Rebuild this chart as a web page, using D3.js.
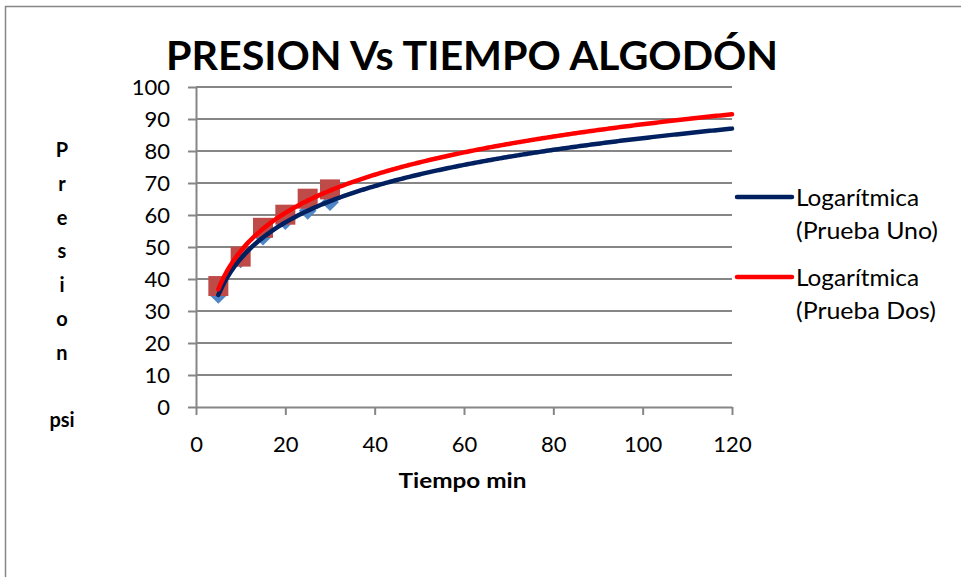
<!DOCTYPE html>
<html>
<head>
<meta charset="utf-8">
<script src="https://cdn.jsdelivr.net/npm/d3@7"></script>
<style>
  html, body { margin: 0; padding: 0; background: #fff; }
  svg { display: block; }
  text { font-family: Lato, "Open Sans", sans-serif; fill: #000; }
</style>
</head>
<body>
<svg id="chart" width="961" height="577"></svg>
<script>
// ---- data ----
const tiempo = [5, 10, 15, 20, 25, 30];
const pruebaUno = [35.0, 46.1, 53.2, 58.1, 61.3, 64.0];
const pruebaDos = [37.8, 47.0, 56.0, 60.1, 65.1, 68.0];
const xTicks = [0, 20, 40, 60, 80, 100, 120];
const yTicks = [0, 10, 20, 30, 40, 50, 60, 70, 80, 90, 100];
const titleText = "PRESION Vs TIEMPO ALGODÓN";
const xTitle = "Tiempo min";
const yTitleLines = ["P", "r", "e", "s", "i", "o", "n", "", "psi"];
const legendLabels = [["Logarítmica", "(Prueba Uno)"], ["Logarítmica", "(Prueba Dos)"]];

// ---- layout ----
const svg = d3.select("#chart");
const plot = { left: 196, right: 732, top: 87, bottom: 407 };
const x = d3.scaleLinear().domain([0, 120]).range([plot.left, plot.right]);
const y = d3.scaleLinear().domain([0, 100]).range([plot.bottom, plot.top]);
const gridColor = "#868686";

// outer border (chart area extends beyond the frame)
svg.append("rect")
  .attr("x", 5.5).attr("y", 6.5).attr("width", 1200).attr("height", 1200)
  .attr("fill", "none").attr("stroke", gridColor).attr("stroke-width", 1.5);

// gridlines
svg.append("g").selectAll("line").data(yTicks.filter(d => d > 0)).join("line")
  .attr("x1", plot.left).attr("x2", plot.right)
  .attr("y1", d => y(d)).attr("y2", d => y(d))
  .attr("stroke", gridColor).attr("stroke-width", 2);

// axes
const yAxis = svg.append("g").attr("transform", `translate(${plot.left},0)`)
  .call(d3.axisLeft(y).tickValues(yTicks).tickSize(8).tickPadding(18).tickSizeOuter(0));
const xAxis = svg.append("g").attr("transform", `translate(0,${plot.bottom})`)
  .call(d3.axisBottom(x).tickValues(xTicks).tickSize(8).tickPadding(21).tickSizeOuter(0));
[yAxis, xAxis].forEach(g => {
  g.select(".domain").attr("stroke", gridColor).attr("stroke-width", 2);
  g.selectAll(".tick line").attr("stroke", gridColor).attr("stroke-width", 2);
  g.selectAll(".tick text").attr("font-family", "Lato, sans-serif").attr("font-size", 22).attr("fill", "#000");
});

// logarithmic trend (least squares on ln x) computed from the data
function logFit(xs, ys) {
  const lx = xs.map(Math.log);
  const mx = d3.mean(lx), my = d3.mean(ys);
  const sxy = d3.sum(lx, (v, i) => (v - mx) * (ys[i] - my));
  const sxx = d3.sum(lx, v => (v - mx) * (v - mx));
  const a = sxy / sxx, b = my - a * mx;
  return t => a * Math.log(t) + b;
}
const fitUno = logFit(tiempo, pruebaUno);
const fitDos = logFit(tiempo, pruebaDos);
const tSamples = d3.range(5, 120.01, 0.5);
const line = f => d3.line().x(t => x(t)).y(t => y(f(t))).curve(d3.curveLinear)(tSamples);

// markers: diamonds (Prueba Uno), squares (Prueba Dos)
const diamond = d3.symbol().type(d3.symbolDiamond2).size(200);
svg.append("g").selectAll("path").data(tiempo).join("path")
  .attr("transform", (d, i) => `translate(${x(d)},${y(pruebaUno[i])})`)
  .attr("d", diamond).attr("fill", "#4F86C6");
svg.append("g").selectAll("rect").data(tiempo).join("rect")
  .attr("x", d => x(d) - 10).attr("y", (d, i) => y(pruebaDos[i]) - 10)
  .attr("width", 20).attr("height", 20).attr("fill", "#BE4B48");

// trendlines
svg.append("path").attr("d", line(fitUno)).attr("fill", "none")
  .attr("stroke", "#002060").attr("stroke-width", 4.5).attr("stroke-linecap", "round");
svg.append("path").attr("d", line(fitDos)).attr("fill", "none")
  .attr("stroke", "#FF0000").attr("stroke-width", 4.5).attr("stroke-linecap", "round");

// title
svg.append("text").attr("x", 472).attr("y", 70).attr("text-anchor", "middle")
  .attr("font-size", 40).attr("font-weight", "bold")
  .attr("textLength", 612).attr("lengthAdjust", "spacingAndGlyphs")
  .text(titleText);

// x axis title
svg.append("text").attr("x", 462.5).attr("y", 488).attr("text-anchor", "middle")
  .attr("font-size", 20).attr("font-weight", "bold")
  .attr("textLength", 128).attr("lengthAdjust", "spacingAndGlyphs")
  .text(xTitle);

// y axis title (stacked letters)
svg.append("g").selectAll("text").data(yTitleLines).join("text")
  .attr("x", 62).attr("y", (d, i) => 157 + i * 33.8).attr("text-anchor", "middle")
  .attr("font-size", 20).attr("font-weight", "bold").text(d => d);

// legend
const legendColors = ["#002060", "#FF0000"];
const legendY = [197, 277];
legendLabels.forEach((lines, i) => {
  svg.append("line").attr("x1", 737).attr("x2", 792)
    .attr("y1", legendY[i]).attr("y2", legendY[i])
    .attr("stroke", legendColors[i]).attr("stroke-width", 4.5).attr("stroke-linecap", "round");
  lines.forEach((t, j) => {
    svg.append("text").attr("x", 796).attr("y", legendY[i] + 8.5 + j * 33)
      .attr("font-size", 23)
      .attr("textLength", j === 0 ? 123 : (i === 0 ? 142 : 140))
      .attr("lengthAdjust", "spacingAndGlyphs")
      .text(t);
  });
});
</script>
</body>
</html>
